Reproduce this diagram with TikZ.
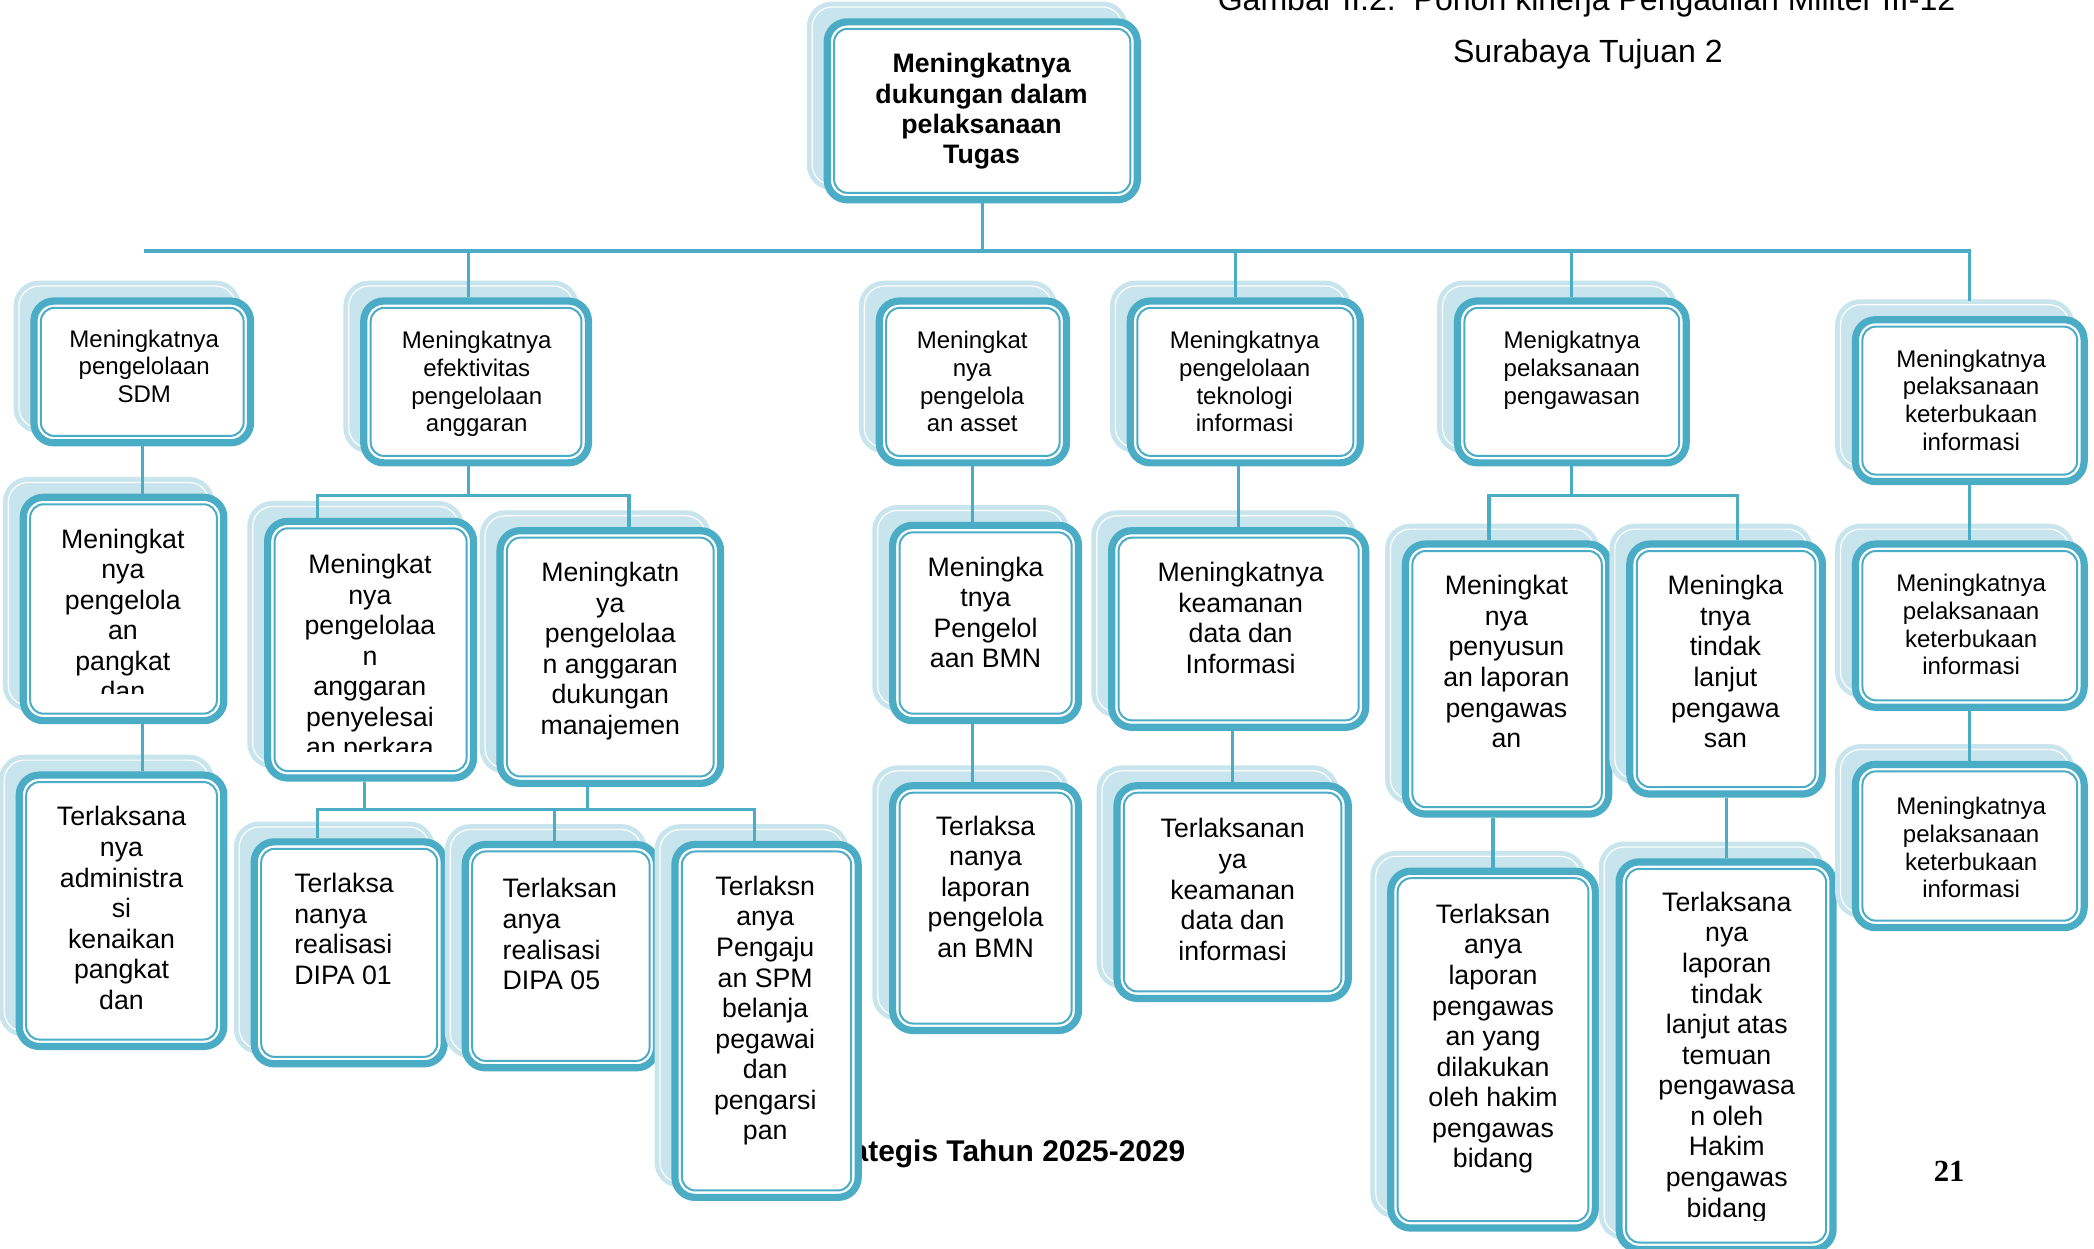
\documentclass[tikz,border=0pt]{standalone}
\usepackage{fontspec}
\setmainfont{Liberation Sans}
\newfontfamily\pagefont{Liberation Serif}
\usetikzlibrary{shadows}
\definecolor{kteal}{HTML}{4BACC6}
\definecolor{kshade}{HTML}{C8E4EC}

\begin{document}
\begin{tikzpicture}[x=0.5pt, y=-0.5pt,
  kbox/.style={draw=kteal, line width=2.7pt, fill=white, rounded corners=7.5pt, inner sep=0pt,
    general shadow={shadow xshift=-5.6pt, shadow yshift=5.6pt, fill=kshade, draw=kshade,
      line width=1.8pt, double=white, double distance=0.45pt},
    path picture={\draw[kteal, line width=0.75pt, rounded corners=5pt]
      ([shift={(2.6pt,-2.6pt)}]path picture bounding box.north west) rectangle
      ([shift={(-2.6pt,2.6pt)}]path picture bounding box.south east);}},
  smalltxt/.style={font=\fontsize{9pt}{10.4pt}\selectfont, align=center, inner sep=0pt, anchor=north},
  bigtxt/.style={font=\fontsize{10pt}{11.45pt}\selectfont, align=center, inner sep=0pt, anchor=north},
  conn/.style={draw=kteal, line width=1.2pt}]

  \useasboundingbox (0,0) rectangle (1568,935);

  % --- Page text ---
  \node[font=\fontsize{12pt}{14pt}\selectfont, anchor=base, inner sep=0pt] (title1) at (1188,8)
    {Gambar II.2.\ \ Pohon kinerja Pengadilan Militer III-12};
  \node[font=\fontsize{12pt}{14pt}\selectfont, anchor=base, inner sep=0pt] (title2) at (1189,47)
    {Surabaya Tujuan 2};
  \node[font=\fontsize{11.2pt}{13pt}\selectfont\bfseries, anchor=base east, inner sep=0pt] (footer) at (888,870)
    {ategis Tahun 2025-2029};
  \node[font=\pagefont\fontsize{11.5pt}{13pt}\selectfont\bfseries, anchor=base, inner sep=0pt] (page) at (1459.5,885) {21};

  % --- Root ---
  \node[kbox, minimum width=116.1pt, minimum height=66.6pt] (root) at (735.5,83) {};
  \node[bigtxt, font=\fontsize{10pt}{11.3pt}\selectfont\bfseries] (root-t) at (735,39.7)
    {Meningkatnya\\dukungan dalam\\pelaksanaan\\Tugas};

  % --- Level 1 ---
  \node[kbox, minimum width=81.1pt, minimum height=53.1pt] (sdm) at (106.5,278.5) {};
  \node[kbox, minimum width=84.1pt, minimum height=60.6pt] (anggaran) at (356.5,286) {};
  \node[kbox, minimum width=70.1pt, minimum height=60.6pt] (asset) at (728.5,286) {};
  \node[kbox, minimum width=86.1pt, minimum height=60.6pt] (ti) at (932.5,286) {};
  \node[kbox, minimum width=85.6pt, minimum height=60.6pt] (awas) at (1177,286) {};
  \node[kbox, minimum width=85.6pt, minimum height=60.6pt] (buka) at (1475,300) {};

  \node[smalltxt] (sdm-t) at (108,246.5) {Meningkatnya\\pengelolaan\\SDM};
  \node[smalltxt] (anggaran-t) at (357,247.5) {Meningkatnya\\efektivitas\\pengelolaan\\anggaran};
  \node[smalltxt] (asset-t) at (728,247.5) {Meningkat\\nya\\pengelola\\an asset};
  \node[smalltxt] (ti-t) at (932,247.5) {Meningkatnya\\pengelolaan\\teknologi\\informasi};
  \node[smalltxt] (awas-t) at (1177,247.5) {Menigkatnya\\pelaksanaan\\pengawasan};
  \node[smalltxt] (buka-t) at (1476,261.5) {Meningkatnya\\pelaksanaan\\keterbukaan\\informasi};

  % --- Level 2 ---
  \node[kbox, minimum width=75.1pt, minimum height=83.6pt] (pangkat) at (92.5,456) {};
  \node[kbox, minimum width=77.1pt, minimum height=96.1pt] (perkara) at (277.5,486.5) {};
  \node[kbox, minimum width=82.6pt, minimum height=94.6pt] (manaj) at (457,492) {};
  \node[kbox, minimum width=69.6pt, minimum height=73.1pt] (bmn) at (738,466.5) {};
  \node[kbox, minimum width=95.1pt, minimum height=73.6pt] (keamanan) at (927.5,471) {};
  \node[kbox, minimum width=76.1pt, minimum height=101.1pt] (susun) at (1128.5,508.5) {};
  \node[kbox, minimum width=72.1pt, minimum height=93.6pt] (tindak) at (1292.5,501) {};
  \node[kbox, minimum width=85.6pt, minimum height=61.1pt] (buka2) at (1475,468.5) {};

  \begin{scope}
    \clip (15,370) rectangle (170,519);
    \node[bigtxt] (pangkat-t) at (92,395.5) {Meningkat\\nya\\pengelola\\an\\pangkat\\dan};
  \end{scope}
  \begin{scope}
    \clip (198,388) rectangle (357,563);
    \node[bigtxt] (perkara-t) at (277,414.5)
      {Meningkat\\nya\\pengelolaa\\n\\anggaran\\penyelesai\\an perkara};
  \end{scope}
  \node[bigtxt] (manaj-t) at (457,420.5) {Meningkatn\\ya\\pengelolaa\\n anggaran\\dukungan\\manajemen};
  \node[bigtxt] (bmn-t) at (738,416.5) {Meningka\\tnya\\Pengelol\\aan BMN};
  \node[bigtxt] (keamanan-t) at (929,420.5) {Meningkatnya\\keamanan\\data dan\\Informasi};
  \node[bigtxt] (susun-t) at (1128,430.5) {Meningkat\\nya\\penyusun\\an laporan\\pengawas\\an};
  \node[bigtxt] (tindak-t) at (1292,430.5) {Meningka\\tnya\\tindak\\lanjut\\pengawa\\san};
  \node[smalltxt] (buka2-t) at (1476,429.5) {Meningkatnya\\pelaksanaan\\keterbukaan\\informasi};

  % --- Level 3 ---
  \node[kbox, minimum width=76.6pt, minimum height=101.6pt] (admin) at (91,682) {};
  \node[kbox, minimum width=71.1pt, minimum height=83.1pt] (dipa1) at (261.5,713.5) {};
  \node[kbox, minimum width=71.6pt, minimum height=83.6pt] (dipa5) at (420,716) {};
  \node[kbox, minimum width=68.6pt, minimum height=132.1pt] (spm) at (574,764.5) {};
  \node[kbox, minimum width=69.6pt, minimum height=91.6pt] (lapbmn) at (738,680) {};
  \node[kbox, minimum width=86.6pt, minimum height=79.6pt] (datainfo) at (923,668) {};
  \node[kbox, minimum width=76.6pt, minimum height=133.6pt] (lapawas) at (1118,786) {};
  \node[kbox, minimum width=80.1pt, minimum height=145.1pt] (laptl) at (1292.5,790.5) {};
  \node[kbox, minimum width=85.6pt, minimum height=61.1pt] (buka3) at (1475,633.5) {};

  \node[bigtxt] (admin-t) at (91,603.5) {Terlaksana\\nya\\administra\\si\\kenaikan\\pangkat\\dan};
  \node[bigtxt, align=left, anchor=north west] (dipa1-t) at (220,653.5) {Terlaksa\\nanya\\realisasi\\DIPA 01};
  \node[bigtxt, align=left, anchor=north west] (dipa5-t) at (376,657.5) {Terlaksan\\anya\\realisasi\\DIPA 05};
  \node[bigtxt] (spm-t) at (573,655.5)
    {Terlaksn\\anya\\Pengaju\\an SPM\\belanja\\pegawai\\dan\\pengarsi\\pan};
  \node[bigtxt] (lapbmn-t) at (738,610.5) {Terlaksa\\nanya\\laporan\\pengelola\\an BMN};
  \node[bigtxt] (datainfo-t) at (923,612.5) {Terlaksanan\\ya\\keamanan\\data dan\\informasi};
  \node[bigtxt] (lapawas-t) at (1118,676.5)
    {Terlaksan\\anya\\laporan\\pengawas\\an yang\\dilakukan\\oleh hakim\\pengawas\\bidang};
  \begin{scope}
    \clip (1210,643) rectangle (1375,914);
    \node[bigtxt] (laptl-t) at (1293,667.5)
      {Terlaksana\\nya\\laporan\\tindak\\lanjut atas\\temuan\\pengawasa\\n oleh\\Hakim\\pengawas\\bidang};
  \end{scope}
  \node[smalltxt] (buka3-t) at (1476,596.5) {Meningkatnya\\pelaksanaan\\keterbukaan\\informasi};

  % --- Connectors ---
  \coordinate (bus) at (0,188);
  \draw[conn] (root.south) -- (root.south |- bus);
  \draw[conn] ([xshift=0.75pt]sdm.north |- bus) -- (buka.north |- bus) -- ([yshift=5.5pt]buka.north);
  \draw[conn] ([xshift=-2.75pt]anggaran.north |- bus) -- ([xshift=-2.75pt]anggaran.north);
  \draw[conn] ([xshift=-3.75pt]ti.north |- bus) -- ([xshift=-3.75pt]ti.north);
  \draw[conn] (awas.north |- bus) -- (awas.north);

  \draw[conn] (sdm.south) -- (sdm.south |- pangkat.north);
  \draw[conn] (sdm.south |- pangkat.south) -- (sdm.south |- admin.north);

  \coordinate (angL) at (238,371);
  \coordinate (angR) at (471,371);
  \draw[conn] ([xshift=-2.75pt]anggaran.south) -- ([xshift=-2.75pt]anggaran.south |- angL);
  \draw[conn] (angL |- perkara.north) -- (angL) -- (angR) -- (angR |- manaj.north);

  \coordinate (dipaL) at (238,606);
  \coordinate (dipaM) at (415,606);
  \coordinate (dipaR) at (565,606);
  \draw[conn] ([xshift=-2.25pt]perkara.south) -- ([xshift=-2.25pt]perkara.south |- dipaL);
  \draw[conn] ([xshift=-8.5pt]manaj.south) -- ([xshift=-8.5pt]manaj.south |- dipaL);
  \draw[conn] (dipaL |- dipa1.north) -- (dipaL) -- (dipaR) -- (dipaR |- spm.north);
  \draw[conn] (dipaM) -- (dipaM |- dipa5.north);

  \draw[conn] (asset.south) -- (asset.south |- bmn.north);
  \draw[conn] (asset.south |- bmn.south) -- (asset.south |- lapbmn.north);

  \draw[conn] (keamanan.north |- ti.south) -- (keamanan.north);
  \draw[conn] (datainfo.north |- keamanan.south) -- (datainfo.north);

  \coordinate (awsL) at (1115,371);
  \coordinate (awsR) at (1301,371);
  \draw[conn] (awas.south) -- (awas.south |- awsL);
  \draw[conn] (awsL |- susun.north) -- (awsL) -- (awsR) -- (awsR |- tindak.north);
  \draw[conn] (lapawas.north |- susun.south) -- (lapawas.north);
  \draw[conn] (laptl.north |- tindak.south) -- (laptl.north);

  \draw[conn] (buka.south) -- (buka2.north);
  \draw[conn] (buka2.south) -- (buka3.north);

\end{tikzpicture}
\end{document}
